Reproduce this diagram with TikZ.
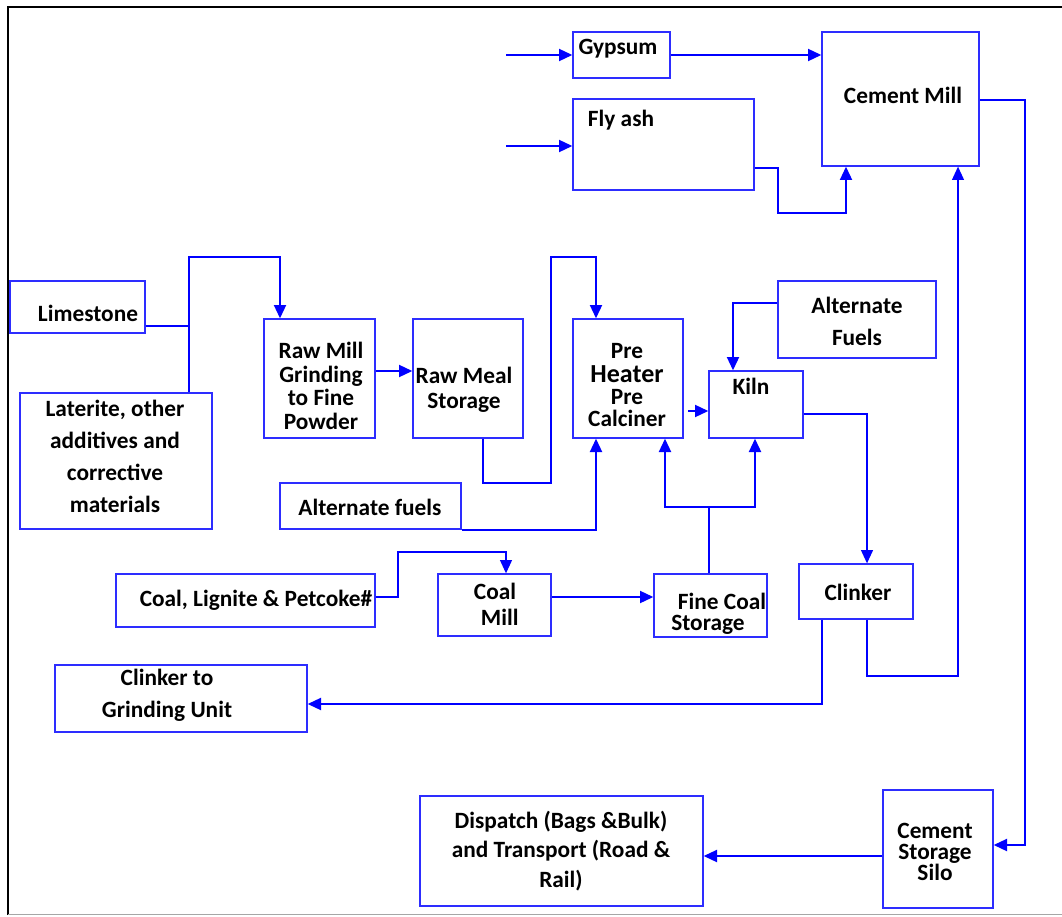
\documentclass[tikz,border=0pt]{standalone}
\usepackage{fontspec}
\setmainfont{Carlito}
\usetikzlibrary{arrows.meta,fit,calc}
\definecolor{lineblue}{RGB}{0,0,255}
\definecolor{boxblue}{RGB}{45,45,255}
\begin{document}
\begin{tikzpicture}[x=0.75pt,y=-0.75pt,
  box/.style={draw=boxblue, line width=1pt, inner sep=0pt},
  conn/.style={draw=lineblue, line width=1.5pt},
  thinconn/.style={draw=lineblue, line width=1pt},
  arr/.style={-{Triangle[length=10pt,width=9pt]}},
  txt/.style={font=\bfseries\fontsize{17.5}{21}\selectfont, inner sep=0pt, align=center, text=black},
  sp/.style={font=\bfseries\fontsize{17.5}{#1}\selectfont},
]
\useasboundingbox (0,0) rectangle (1062,916);
% frame
\draw[black, line width=1.6pt] (8,915) -- (8,7) -- (1062,7);
\draw[black!35, line width=1.2pt] (8,914.5) -- (1062,914.5);

% boxes
\node[box, fit={(573,32) (670,78)}] (gyp) {};
\node[box, fit={(573,99) (754,190)}] (fly) {};
\node[box, fit={(822,32) (979,166)}] (cm) {};
\node[box, fit={(10,281) (145,333)}] (lime) {};
\node[box, fit={(20,393) (212,529)}] (lat) {};
\node[box, fit={(264,319) (375,438)}] (raw) {};
\node[box, fit={(413,319) (523,438)}] (meal) {};
\node[box, fit={(573,319) (683,438)}] (pre) {};
\node[box, fit={(709,371) (803,438)}] (kiln) {};
\node[box, fit={(778,281) (936,358)}] (altF) {};
\node[box, fit={(280,483) (461,529)}] (altf) {};
\node[box, fit={(116,574) (375,627)}] (coal) {};
\node[box, fit={(438,574) (551,636)}] (cmill) {};
\node[box, fit={(654,574) (767,637)}] (fine) {};
\node[box, fit={(799,564) (913,619)}] (clk) {};
\node[box, fit={(55,665) (307,732)}] (cgu) {};
\node[box, fit={(883,790) (993,908)}] (silo) {};
\node[box, fit={(420,796) (703,906)}] (disp) {};

% texts
\node[txt] (gypT) at (618,49) {Gypsum};
\node[txt] (flyT) at (621,120) {Fly ash};
\node[txt] (cmT) at (903,95) {Cement Mill};
\node[txt] (limeT) at (88,313) {Limestone};
\node[txt, sp=24pt] (latT) at (115,456) {Laterite, other\\additives and\\corrective\\materials};
\node[txt, sp=17.8pt] (rawT) at (321,386) {Raw Mill\\Grinding\\to Fine\\Powder};
\node[txt, sp=18.8pt] (mealT) at (464,390) {Raw Meal\\Storage};
\node[txt, sp=16.5pt] (preT) at (627,385) {Pre\\[2pt]{\fontsize{19.5}{16.5}\selectfont Heater}\\Pre\\Calciner};
\node[txt] (kilnT) at (751,386) {Kiln};
\node[txt, sp=24pt] (altFT) at (857,321) {Alternate\\Fuels};
\node[txt] (altfT) at (370,507) {Alternate fuels};
\node[txt] (coalT) at (256,600) {Coal, Lignite \& Petcoke\#};
\node[txt, sp=19.5pt] (cmillT) at (495,604) {Coal\\\hspace*{7pt}Mill};
\node[txt, sp=16pt, align=left, anchor=west] (fineT) at (671,613.5) {\hspace*{5pt}Fine Coal\\Storage};
\node[txt] (clkT) at (858,592) {Clinker};
\node[txt, sp=24pt] (cguT) at (167,695) {Clinker to\\Grinding Unit};
\node[txt, sp=22pt] (dispT) at (561,851) {Dispatch (Bags \&Bulk)\\and Transport (Road \&\\Rail)};
\node[txt, sp=16pt] (siloT) at (935,852) {Cement\\Storage\\Silo};

% free ends and junctions
\coordinate (gin) at (506,55);
\coordinate (fin) at (506,146);
\coordinate (pk) at (688,411);
\coordinate (fj) at (709,507);

% connectors
\draw[conn, arr] (gin) -- (gyp.west |- gin);
\draw[conn, arr] (fin) -- (fly.west |- fin);
\draw[conn, arr] (gyp.east) -- (cm.west |- gyp.east);
\draw[conn, arr] (fly.east |- 0,168) -- (778,168) -- (778,213) -| (cm.south -| 846,0);
\draw[conn, arr] (cm.east |- 0,100) -- (1025,100) |- (silo.east |- 0,845);
\draw[thinconn, arr] (clk.south -| 867,0) -- (867,676) -| (cm.south -| 958,0);

\draw[conn] (lime.east |- 0,326) -- (189,326);
\draw[conn, arr] (lat.north -| 189,0) -- (189,257) -| (raw.north -| 280,0);
\draw[conn, arr] (raw.east |- 0,371) -- (meal.west |- 0,371);
\draw[conn, arr] (meal.south -| 483,0) -- (483,483) -- (551,483) -- (551,257) -| (pre.north -| 596,0);
\draw[conn, arr] (altf.south east) -| (pre.south -| 596,0);
\draw[conn, arr] (pk) -- (kiln.west |- pk);
\draw[conn, arr] (altF.west |- 0,303) -| (kiln.north -| 733,0);
\draw[thinconn, arr] (kiln.east |- 0,414) -| (clk.north -| 867,0);
\draw[conn] (fine.north -| fj) -- (fj);
\draw[conn, arr] (fj) -| (pre.south -| 665,0);
\draw[conn, arr] (fj) -| (kiln.south -| 755,0);
\draw[thinconn, arr] (coal.east |- 0,597) -- (398,597) -- (398,552) -| (cmill.north -| 506,0);
\draw[conn, arr] (cmill.east |- 0,597) -- (fine.west |- 0,597);
\draw[conn, arr] (clk.south -| 822,0) -- (822,704) -- (cgu.east |- 0,704);
\draw[conn, arr] (silo.west |- 0,856) -- (disp.east |- 0,856);
\end{tikzpicture}
\end{document}
